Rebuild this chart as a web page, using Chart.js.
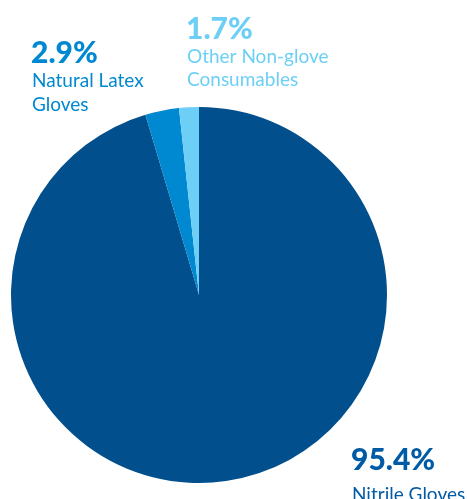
<!DOCTYPE html>
<html>
<head>
<meta charset="utf-8">
<script src="https://cdn.jsdelivr.net/npm/chart.js@4"></script>
<style>
html,body{margin:0;padding:0;background:#fff;}
#wrap{width:467px;height:499px;position:relative;}
</style>
</head>
<body>
<div id="wrap"><canvas id="c" width="467" height="499"></canvas></div>
<script>
const categories = ["Nitrile Gloves", "Natural Latex Gloves", "Other Non-glove Consumables"];
const shares = [95.4, 2.9, 1.7];
const pctLabels = ["95.4%", "2.9%", "1.7%"];
const nameLines = [["Nitrile Gloves"], ["Natural Latex", "Gloves"], ["Other Non-glove", "Consumables"]];
const sliceColors = ["#014F8C", "#0088D1", "#6DCFF6"];
const textColors = ["#005BA6", "#0088D1", "#6DCFF6"];

const labelPos = [
  {x: 351, y: 470, nameY: [501]},
  {x: 31, y: 63, nameY: [87, 111]},
  {x: 186, y: 39, nameY: [63, 86]}
];

const labelPlugin = {
  id: 'calloutLabels',
  afterDraw(chart) {
    const ctx = chart.ctx;
    ctx.save();
    ctx.textAlign = 'left';
    ctx.textBaseline = 'alphabetic';
    for (let i = 0; i < categories.length; i++) {
      const p = labelPos[i];
      ctx.fillStyle = textColors[i];
      ctx.font = '900 30px Lato, "Open Sans", sans-serif';
      ctx.fillText(pctLabels[i], p.x, p.y);
      ctx.font = '19px Lato, "Open Sans", sans-serif';
      nameLines[i].forEach((t, k) => ctx.fillText(t, p.x + 1, p.nameY[k]));
    }
    ctx.restore();
  }
};

new Chart(document.getElementById('c'), {
  type: 'pie',
  data: {
    labels: categories,
    datasets: [{
      data: shares,
      backgroundColor: sliceColors,
      borderWidth: 0
    }]
  },
  options: {
    responsive: false,
    animation: false,
    layout: {padding: {left: 10, right: 79, top: 107, bottom: 16}},
    plugins: {legend: {display: false}, tooltip: {enabled: false}}
  },
  plugins: [labelPlugin]
});
</script>
</body>
</html>
